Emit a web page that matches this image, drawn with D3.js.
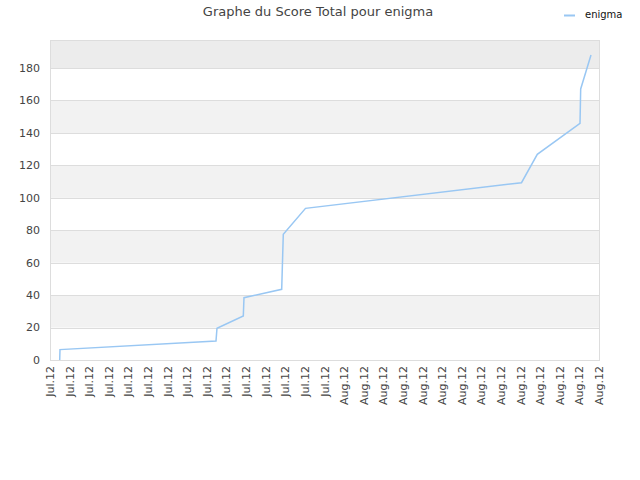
<!DOCTYPE html>
<html>
<head>
<meta charset="utf-8">
<script src="https://cdn.jsdelivr.net/npm/d3@7"></script>
<style>
body{margin:0;background:#fff;}
text{font-family:"DejaVu Sans",sans-serif;}
</style>
</head>
<body>
<div id="chart"></div>
<script>
const width=640;
const height=480;
const margin={top:40,right:40,bottom:120,left:50};
const seriesname="enigma";
const titletext="Graphe du Score Total pour enigma";
// points
const times=["2012-07-17 11:53","2012-07-17 12:14","2012-07-25 11:11","2012-07-25 12:24",
    "2012-07-26 20:37","2012-07-26 21:27","2012-07-28 19:36","2012-07-28 21:34",
    "2012-07-30 00:45","2012-08-10 01:08","2012-08-10 20:28","2012-08-13 00:45",
    "2012-08-13 01:35","2012-08-13 14:12"];
const scores=[0,6.4,11.7,19.6,27.1,38.4,43.6,77.5,93.5,109.3,126.8,145.9,167.1,188.0];
const ytickvalues=[0,20,40,60,80,100,120,140,160,180];
const xstart="2012-07-17 00:00";
const xend="2012-08-14 00:00";
const ymax=197.3;

const parse=d3.timeParse("%Y-%m-%d %H:%M");
const data=times.map((t,i)=>({t:parse(t),v:scores[i]}));

const svg=d3.select("#chart").append("svg")
    .attr("width",width).attr("height",height);
const x0=margin.left, x1=width-margin.right, y0=height-margin.bottom, y1=margin.top;
const xscale=d3.scaleTime()
    .domain([parse(xstart),parse(xend)])
    .range([x0,x1-1]);
const yscale=d3.scaleLinear()
    .domain([0,ymax])
    .range([y0,y1]);

// bands
const bands=ytickvalues.map((v,i)=>({lo:v,hi:Math.min(v+20,ymax),i:i}));
svg.selectAll(".band").data(bands.filter(b=>b.i%2===1)).enter()
    .append("rect")
    .attr("x",x0).attr("width",x1-x0)
    .attr("y",d=>yscale(d.hi)).attr("height",d=>yscale(d.lo)-yscale(d.hi))
    .attr("fill",d=>d.i===9?"#ececec":"#f2f2f2");
// grid
svg.selectAll(".grid").data(ytickvalues.slice(1)).enter()
    .append("line")
    .attr("x1",x0).attr("x2",x1)
    .attr("y1",d=>Math.round(yscale(d))+0.5).attr("y2",d=>Math.round(yscale(d))+0.5)
    .attr("stroke","#dddddd");
svg.append("rect")
    .attr("x",x0+0.5).attr("y",y1+0.5)
    .attr("width",x1-x0-1).attr("height",y0-y1)
    .attr("fill","none").attr("stroke","#dddddd");

// y labels
svg.selectAll(".ylab").data(ytickvalues).enter()
    .append("text")
    .attr("x",x0-10).attr("y",d=>yscale(d))
    .attr("dy","0.35em").attr("text-anchor","end")
    .attr("font-size",11).attr("fill","#444")
    .text(d=>d);

// x labels
const fmt=d3.timeFormat("%b.%y");
const xticks=xscale.ticks(d3.timeDay.every(1));
svg.selectAll(".xlab").data(xticks).enter()
    .append("text")
    .attr("transform",d=>`translate(${xscale(d)+4},${y0+6}) rotate(-90)`)
    .attr("text-anchor","end")
    .attr("font-size",11).attr("fill","#444")
    .text(d=>fmt(d));

// line
const line=d3.line().x(d=>xscale(d.t)).y(d=>yscale(d.v));
svg.append("path")
    .datum(data)
    .attr("fill","none")
    .attr("stroke","#99c7f3")
    .attr("stroke-width",1.5)
    .attr("d",line);

// title
svg.append("text")
    .attr("x",318).attr("y",16)
    .attr("text-anchor","middle")
    .attr("font-size",13).attr("fill","#444")
    .text(titletext);

// legend
svg.append("line")
    .attr("x1",564).attr("x2",575).attr("y1",15.5).attr("y2",15.5)
    .attr("stroke","#99c7f3").attr("stroke-width",2);
svg.append("text")
    .attr("x",585).attr("y",18)
    .attr("font-size",10).attr("fill","#111")
    .text(seriesname);
</script>
</body>
</html>
